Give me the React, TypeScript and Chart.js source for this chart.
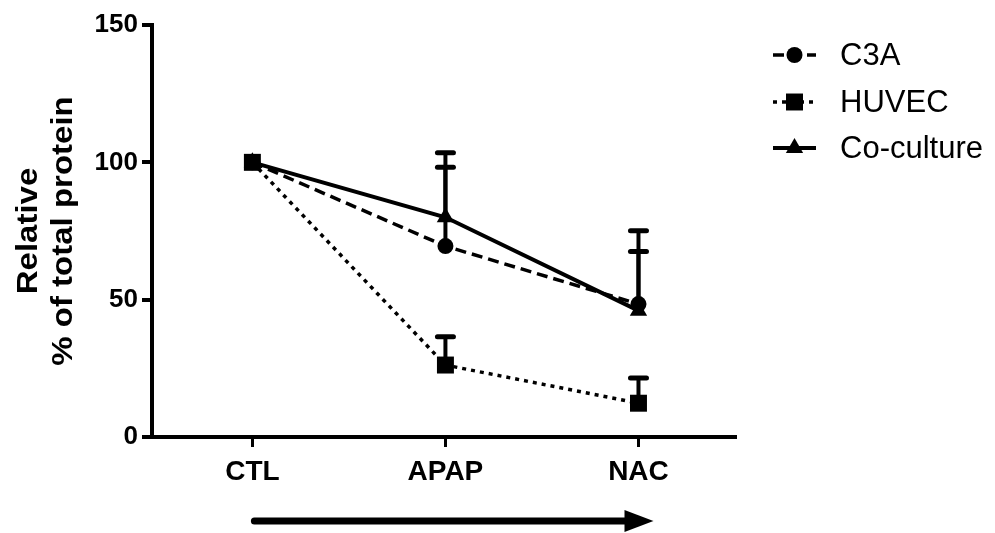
import React, { useEffect, useRef } from "react";
import { Chart, registerables } from "chart.js";

Chart.register(...registerables);

const categories = ["CTL", "APAP", "NAC"];
const seriesNames = ["C3A", "HUVEC", "Co-culture"];
const c3aValues = [100, 69.5, 48.4];
const c3aErrors = [0, 28.7, 19.1];
const huvecValues = [100, 26.2, 12.3];
const huvecErrors = [0, 10.3, 9.2];
const cocultureValues = [100, 80, 46];
const cocultureErrors = [0, 23.5, 29.1];
const yTicks = [0, 50, 100, 150];
const yTitleLines = ["Relative", "% of total protein"];

const FONT = "'Liberation Sans', Arial, Helvetica, sans-serif";

const errorsBySeries = [c3aErrors, huvecErrors, cocultureErrors];

const errorBarPlugin = {
  id: "errorBars",
  afterDatasetsDraw(chart: any) {
    const { ctx, scales } = chart;
    const x = scales.x;
    const y = scales.y;
    ctx.save();
    ctx.strokeStyle = "#000";
    chart.data.datasets.forEach((ds: any, di: number) => {
      const errs = errorsBySeries[di];
      ds.data.forEach((pt: any, i: number) => {
        const e = errs[i];
        if (!e) return;
        const px = x.getPixelForValue(pt.x);
        const py = y.getPixelForValue(pt.y);
        const pt2 = y.getPixelForValue(pt.y + e);
        ctx.lineWidth = 4;
        ctx.lineCap = "butt";
        ctx.beginPath();
        ctx.moveTo(px, py);
        ctx.lineTo(px, pt2);
        ctx.stroke();
        ctx.lineWidth = 5;
        ctx.lineCap = "round";
        ctx.beginPath();
        ctx.moveTo(px - 8, pt2);
        ctx.lineTo(px + 8, pt2);
        ctx.stroke();
      });
    });
    ctx.restore();
  },
};

function drawMarker(ctx: any, style: string, x: number, y: number, r: number) {
  ctx.beginPath();
  if (style === "circle") {
    ctx.arc(x, y, r, 0, Math.PI * 2);
  } else if (style === "rect") {
    const s = r * Math.SQRT1_2;
    ctx.rect(x - s, y - s, 2 * s, 2 * s);
  } else if (style === "triangle") {
    for (let k = 0; k < 3; k++) {
      const a = (k * 2 * Math.PI) / 3;
      const px = x + Math.sin(a) * r;
      const py = y - Math.cos(a) * r;
      if (k === 0) ctx.moveTo(px, py);
      else ctx.lineTo(px, py);
    }
    ctx.closePath();
  }
  ctx.fill();
}

const decorPlugin = {
  id: "decor",
  afterDraw(chart: any) {
    const { ctx, chartArea, scales } = chart;
    ctx.save();
    // y axis title (two lines, rotated)
    const cy = (chartArea.top + chartArea.bottom) / 2;
    const baselines = [37, 72];
    ctx.fillStyle = "#000";
    ctx.font = `bold 30px ${FONT}`;
    ctx.textAlign = "center";
    ctx.textBaseline = "alphabetic";
    yTitleLines.forEach((t, i) => {
      ctx.save();
      ctx.translate(baselines[i], cy);
      ctx.rotate(-Math.PI / 2);
      ctx.scale(1.1, 1);
      ctx.fillText(t, 0, 0);
      ctx.restore();
    });
    // legend
    const lx0 = chartArea.right + 38;
    const lx1 = lx0 + 43;
    const rowY = [chartArea.top + 30, chartArea.top + 77, chartArea.top + 123];
    chart.data.datasets.forEach((ds: any, i: number) => {
      const yy = rowY[i];
      ctx.strokeStyle = "#000";
      ctx.fillStyle = "#000";
      ctx.lineWidth = ds.borderWidth;
      ctx.setLineDash(ds.borderDash || []);
      ctx.beginPath();
      ctx.moveTo(lx0, yy);
      ctx.lineTo(lx1, yy);
      ctx.stroke();
      ctx.setLineDash([]);
      drawMarker(ctx, ds.pointStyle, (lx0 + lx1) / 2, yy, ds.pointRadius);
      ctx.font = `31px ${FONT}`;
      ctx.textAlign = "left";
      ctx.textBaseline = "middle";
      ctx.fillText(ds.label, lx1 + 24, yy + 1);
    });
    // arrow
    const ax0 = scales.x.getPixelForValue(0);
    const ax1 = scales.x.getPixelForValue(2) + 15;
    const ay = chartArea.bottom + 84;
    ctx.strokeStyle = "#000";
    ctx.fillStyle = "#000";
    ctx.lineWidth = 7;
    ctx.lineCap = "round";
    ctx.beginPath();
    ctx.moveTo(ax0 + 2, ay);
    ctx.lineTo(ax1 - 20, ay);
    ctx.stroke();
    ctx.beginPath();
    ctx.moveTo(ax1 - 29, ay - 11);
    ctx.lineTo(ax1, ay);
    ctx.lineTo(ax1 - 29, ay + 11);
    ctx.closePath();
    ctx.fill();
    ctx.restore();
  },
};

export default function App() {
  const ref = useRef<HTMLCanvasElement>(null);
  useEffect(() => {
    const toPts = (vals: number[]) => vals.map((v, i) => ({ x: i, y: v }));
    const chart = new Chart(ref.current as HTMLCanvasElement, {
      type: "line",
      data: {
        datasets: [
          {
            label: seriesNames[0],
            data: toPts(c3aValues),
            borderColor: "#000",
            backgroundColor: "#000",
            borderWidth: 3.5,
            borderDash: [11, 6],
            pointStyle: "circle",
            pointRadius: 8,
            pointBorderWidth: 0,
            order: 1,
          },
          {
            label: seriesNames[1],
            data: toPts(huvecValues),
            borderColor: "#000",
            backgroundColor: "#000",
            borderWidth: 3.5,
            borderDash: [4, 5],
            pointStyle: "rect",
            pointRadius: 12,
            pointBorderWidth: 0,
            order: 0,
          },
          {
            label: seriesNames[2],
            data: toPts(cocultureValues),
            borderColor: "#000",
            backgroundColor: "#000",
            borderWidth: 4,
            pointStyle: "triangle",
            pointRadius: 10,
            pointBorderWidth: 0,
            order: 2,
          },
        ],
      },
      options: {
        responsive: false,
        animation: false,
        devicePixelRatio: 1,
        layout: { padding: { top: 25, right: 260, left: 0, bottom: 0 } },
        plugins: { legend: { display: false }, tooltip: { enabled: false } },
        scales: {
          x: {
            type: "linear",
            min: -0.52,
            max: 2.5,
            afterBuildTicks: (s: any) => {
              s.ticks = categories.map((_, i) => ({ value: i }));
            },
            afterFit: (s: any) => {
              s.height = 96;
            },
            border: { display: true, color: "#000", width: 4 },
            grid: { drawOnChartArea: false, color: "#000", lineWidth: 3, tickLength: 10 },
            ticks: {
              autoSkip: false,
              maxRotation: 0,
              padding: 8,
              color: "#000",
              font: { family: FONT, size: 28, weight: "bold" },
              callback: (v: any) => categories[v as number] ?? "",
            },
          },
          y: {
            type: "linear",
            min: 0,
            max: 150,
            afterBuildTicks: (s: any) => {
              s.ticks = yTicks.map((v) => ({ value: v }));
            },
            afterFit: (s: any) => {
              s.width = 152;
            },
            border: { display: true, color: "#000", width: 4 },
            grid: { drawOnChartArea: false, color: "#000", lineWidth: 4, tickLength: 10 },
            ticks: {
              padding: 4,
              color: "#000",
              font: { family: FONT, size: 26, weight: "bold" },
            },
          },
        },
      },
      plugins: [errorBarPlugin, decorPlugin],
    } as any);
    return () => chart.destroy();
  }, []);
  return (
    <div style={{ position: "fixed", left: 0, top: 0, width: 995, height: 533, background: "#fff" }}>
      <canvas ref={ref} width={995} height={533} style={{ width: 995, height: 533 }} />
    </div>
  );
}
